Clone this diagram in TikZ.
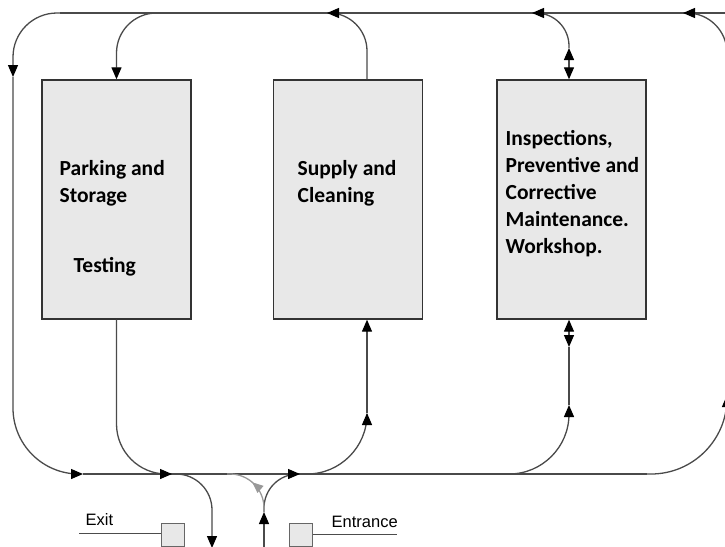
\documentclass[tikz,border=0pt]{standalone}
\usepackage{fontspec}
\setmainfont{Carlito}
\newfontfamily\gatefont{Liberation Sans}
\usetikzlibrary{arrows.meta,decorations.markings}
\definecolor{boxgray}{HTML}{E8E8E8}
\definecolor{linegray}{HTML}{4A4A4A}
\tikzset{
  box/.style={draw=black!80, fill=boxgray, line width=1.4pt, minimum width=149pt, minimum height=239pt, inner sep=0pt},
  boxtext/.style={anchor=base west, align=left, inner sep=0pt, font=\fontsize{21.5}{27}\selectfont\bfseries},
  track/.style={draw=linegray, line width=1.3pt},
  gate/.style={draw=black!60, fill=boxgray, line width=1pt, minimum size=23pt, inner sep=0pt},
  gatetext/.style={anchor=base west, inner sep=0pt, font=\gatefont\fontsize{16.5}{18}\selectfont},
  midarrow/.style={postaction={decorate}, decoration={markings, mark=at position #1 with {\arrow{Triangle[length=11pt,width=9pt]}}}}
}

\begin{document}
\begin{tikzpicture}[x=1pt,y=-1pt,line width=1.3pt,>={Triangle[length=12pt,width=10pt,color=black]}]
  \useasboundingbox (0,0) rectangle (725,546);
  \clip (0,0) rectangle (725,546);
  % boxes
  \node[box] (park) at (116.5,199.5) {};
  \node[box] (supply) at (348,199.5) {};
  \node[box] (insp) at (571.5,199.5) {};
  % base = last line
  \node[boxtext] (parktxt) at (59,202) {Parking and\\Storage};
  \node[boxtext] (testtxt) at (73,272) {Testing};
  \node[boxtext] (supplytxt) at (297,202) {Supply and\\Cleaning};
  \node[boxtext] (insptxt) at (505,253) {Inspections,\\Preventive and\\Corrective\\Maintenance.\\Workshop.};
  % junctions
  \coordinate (sx) at (367,0);
  \coordinate (ix) at (569,0);
  \coordinate (topl) at (60,13);
  \coordinate (topr) at (727,13);
  \coordinate (lefta) at (13,77);
  \coordinate (bl) at (83,474);
  \coordinate (br) at (647,474);
  \coordinate (righta) at (727,395);
  \coordinate (righttop) at (683,13);
  \coordinate (parktop) at (157,13);
  \coordinate (parkin) at (172,474);
  \coordinate (exitfork) at (175,474);
  \coordinate (exitout) at (212,548);
  \coordinate (entin) at (264,548);
  \coordinate (entfork) at (264,512);
  \coordinate (entjoin) at (300,474);
  \coordinate (entback) at (227,474);
  \coordinate (supplyup) at (367,413);
  \coordinate (supplyjoin) at (327,13);
  \coordinate (inspfork) at (507,474);
  \coordinate (inspup) at (569,405);
  \coordinate (inspmid) at (569,347);
  \coordinate (insptop) at (569,48);
  \coordinate (inspjoin) at (532,13);
  % outer loop
  \draw[track] (topl) -- (topr);
  \draw[track,->,rounded corners=44] (topl) -| (lefta);
  \draw[track,->,rounded corners=66] (lefta) |- (bl);
  \draw[track] (bl) -- (br);
  \draw[track,->,rounded corners=76] (br) -| (righta);
  \draw[track,->,rounded corners=40] (righta) |- (righttop);
  % parking and exit
  \draw[track,->,rounded corners=40] (parktop) -| (park.north);
  \draw[track,->,rounded corners=50] (park.south) |- (parkin);
  \draw[track,->,rounded corners=36] (exitfork) -| (exitout);
  % entrance
  \draw[track,->] (entin) -- (entfork);
  \draw[track,->,rounded corners=34] (entfork) |- (entjoin);
  \draw[track,draw=black!40,color=black!40,rounded corners=34,midarrow=0.55] (entfork) |- (entback);
  % supply
  \draw[track,->,rounded corners=60] (entjoin) -| (supplyup);
  \draw[track,->] (supplyup) -- (sx |- supply.south);
  \draw[track,->,rounded corners=38] (sx |- supply.north) |- (supplyjoin);
  % inspections
  \draw[track,->,rounded corners=60] (inspfork) -| (inspup);
  \draw[track] (inspup) -- (inspmid);
  \draw[track,<->] (inspmid) -- (ix |- insp.south);
  \draw[track,<->] (ix |- insp.north) -- (insptop);
  \draw[track,->,rounded corners=33] (insptop) |- (inspjoin);
  % gates
  \node[gate] (exitsq) at (172.5,535) {};
  \node[gate] (entsq) at (301,535) {};
  \coordinate (exitline) at (79,533);
  \coordinate (entline) at (397,534);
  \draw[line width=1pt,draw=black!70] (exitline) -- (exitsq.west |- exitline);
  \draw[line width=1pt,draw=black!70] (entsq.east |- entline) -- (entline);
  \node[gatetext] (exittxt) at (85,525) {Exit};
  \node[gatetext] (enttxt) at (331,527) {Entrance};
\end{tikzpicture}
\end{document}
